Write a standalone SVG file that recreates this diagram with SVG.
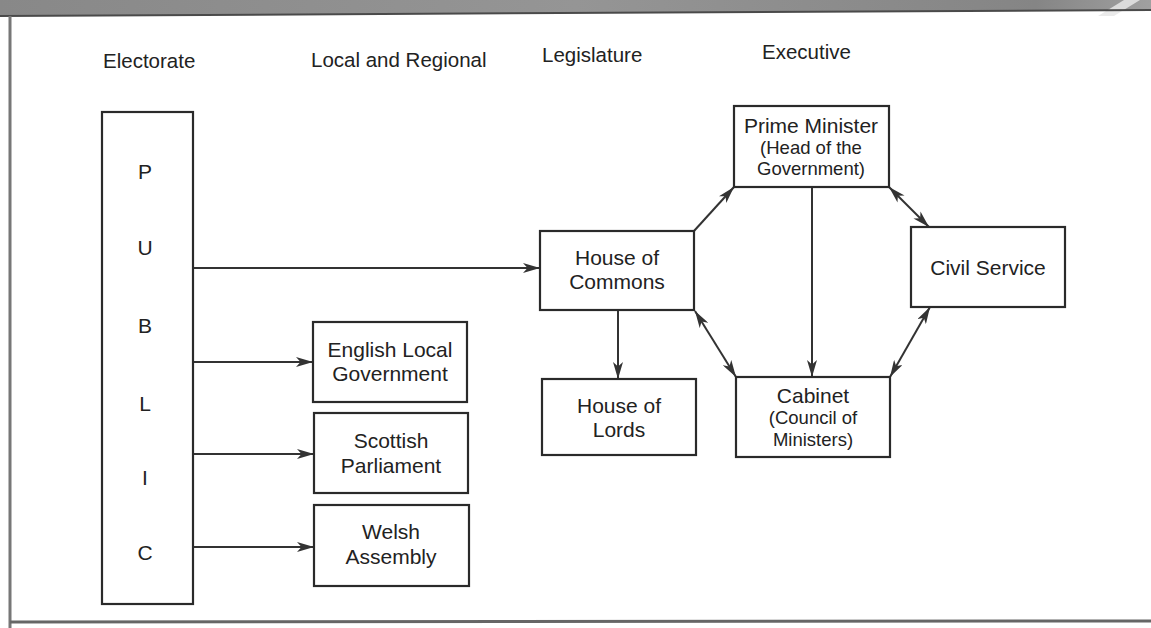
<svg xmlns="http://www.w3.org/2000/svg" width="1151" height="628" viewBox="0 0 1151 628">
  <defs>
    <linearGradient id="band" x1="0" y1="0" x2="1" y2="0">
      <stop offset="0" stop-color="#888"/>
      <stop offset="0.5" stop-color="#959595"/>
      <stop offset="0.9" stop-color="#858585"/>
      <stop offset="1" stop-color="#a0a0a0"/>
    </linearGradient>
    <marker id="arrow" viewBox="0 0 17 10" markerWidth="17" markerHeight="10" refX="17" refY="5" orient="auto-start-reverse" markerUnits="userSpaceOnUse">
      <path d="M0,0 L17,5 L0,10 L4.5,5 Z" fill="#333"/>
    </marker>
  </defs>
  <style>
    .box { fill: #fff; stroke: #2a2a2a; stroke-width: 2.2; }
    .edge { fill: none; stroke: #333; stroke-width: 2; }
    .hdr { font-family: "Liberation Sans", Arial, sans-serif; font-size: 20.5px; fill: #222; }
    .t { font-family: "Liberation Sans", Arial, sans-serif; font-size: 21px; fill: #222; text-anchor: middle; }
    .s { font-family: "Liberation Sans", Arial, sans-serif; font-size: 18.5px; fill: #222; text-anchor: middle; }
  </style>

  <rect width="1151" height="628" fill="#fff"/>

  <!-- page frame: shaded top band, left rule, bottom rule -->
  <g id="frame">
    <polygon points="0,0 1151,0 1151,10 0,16" fill="url(#band)"/>
    <polygon points="1098,16 1124,0 1140,0 1114,16" fill="#e6e6e6" opacity="0.85"/>
    <line x1="0" y1="16" x2="1151" y2="10" stroke="#4a4a4a" stroke-width="2"/>
    <line x1="10" y1="16" x2="10" y2="628" stroke="#777" stroke-width="3"/>
    <line x1="10" y1="622" x2="1151" y2="621" stroke="#666" stroke-width="3"/>
  </g>

  <!-- column headings -->
  <g id="headings">
    <text class="hdr" x="103" y="68">Electorate</text>
    <text class="hdr" x="311" y="67">Local and Regional</text>
    <text class="hdr" x="542" y="62">Legislature</text>
    <text class="hdr" x="762" y="59">Executive</text>
  </g>

  <!-- connectors -->
  <g id="connectors">
    <line class="edge" x1="193" y1="268" x2="540" y2="268" marker-end="url(#arrow)"/>
    <line class="edge" x1="193" y1="362" x2="313" y2="362" marker-end="url(#arrow)"/>
    <line class="edge" x1="193" y1="454" x2="314" y2="454" marker-end="url(#arrow)"/>
    <line class="edge" x1="193" y1="547" x2="314" y2="547" marker-end="url(#arrow)"/>
    <line class="edge" x1="694" y1="231" x2="734" y2="187" marker-end="url(#arrow)"/>
    <line class="edge" x1="889" y1="187" x2="929" y2="227" marker-start="url(#arrow)" marker-end="url(#arrow)"/>
    <line class="edge" x1="812" y1="187" x2="812" y2="377" marker-end="url(#arrow)"/>
    <line class="edge" x1="695" y1="311" x2="736" y2="377" marker-start="url(#arrow)" marker-end="url(#arrow)"/>
    <line class="edge" x1="890" y1="377" x2="930" y2="307" marker-start="url(#arrow)" marker-end="url(#arrow)"/>
    <line class="edge" x1="618" y1="310" x2="618" y2="379" marker-end="url(#arrow)"/>
  </g>

  <g id="public">
    <rect class="box" x="102" y="112" width="91" height="492"/>
    <text class="t" x="145" y="179">P</text>
    <text class="t" x="145" y="255">U</text>
    <text class="t" x="145" y="333">B</text>
    <text class="t" x="145" y="411">L</text>
    <text class="t" x="145" y="485">I</text>
    <text class="t" x="145" y="560">C</text>
  </g>

  <g id="english-local-government">
    <rect class="box" x="313" y="322" width="154" height="80"/>
    <text class="t" x="390" y="357">English Local</text>
    <text class="t" x="390" y="381">Government</text>
  </g>

  <g id="scottish-parliament">
    <rect class="box" x="314" y="413" width="154" height="80"/>
    <text class="t" x="391" y="448">Scottish</text>
    <text class="t" x="391" y="473">Parliament</text>
  </g>

  <g id="welsh-assembly">
    <rect class="box" x="314" y="505" width="155" height="81"/>
    <text class="t" x="391" y="539">Welsh</text>
    <text class="t" x="391" y="564">Assembly</text>
  </g>

  <g id="house-of-commons">
    <rect class="box" x="540" y="231" width="154" height="79"/>
    <text class="t" x="617" y="265">House of</text>
    <text class="t" x="617" y="289">Commons</text>
  </g>

  <g id="house-of-lords">
    <rect class="box" x="542" y="379" width="154" height="76"/>
    <text class="t" x="619" y="413">House of</text>
    <text class="t" x="619" y="437">Lords</text>
  </g>

  <g id="prime-minister">
    <rect class="box" x="734" y="106" width="155" height="81"/>
    <text class="t" x="811" y="133">Prime Minister</text>
    <text class="s" x="811" y="154">(Head of the</text>
    <text class="s" x="811" y="175">Government)</text>
  </g>

  <g id="cabinet">
    <rect class="box" x="736" y="377" width="154" height="80"/>
    <text class="t" x="813" y="403">Cabinet</text>
    <text class="s" x="813" y="424">(Council of</text>
    <text class="s" x="813" y="446">Ministers)</text>
  </g>

  <g id="civil-service">
    <rect class="box" x="911" y="227" width="154" height="80"/>
    <text class="t" x="988" y="275">Civil Service</text>
  </g>
</svg>
